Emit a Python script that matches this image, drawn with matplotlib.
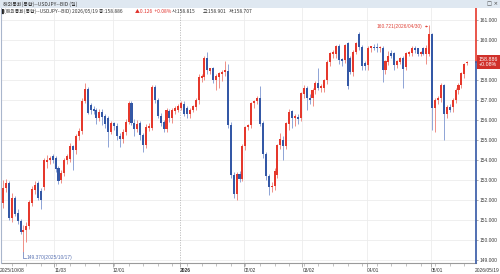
import matplotlib
matplotlib.use('Agg')
import matplotlib.pyplot as plt
import matplotlib.transforms as mtrans
from matplotlib import font_manager
from matplotlib.patches import Rectangle
import numpy as np
import pandas as pd

# ---------------- data ----------------
start_date = '2025-10-08'
end_date = '2026-05-19'

opens = [151.85, 152.60, 152.85, 151.10, 152.10, 151.30, 150.95, 150.40, 150.50, 150.70,
         151.85, 152.50, 152.80, 152.45, 152.65, 153.90, 154.00, 154.15, 154.10, 153.55,
         152.98, 153.35, 153.97, 154.05, 154.67, 154.50, 155.17, 155.45, 156.95, 157.52,
         156.75, 156.50, 156.47, 156.06, 156.40, 156.20, 156.10, 155.40, 155.80, 155.70,
         155.20, 155.05, 155.40, 155.90, 156.85, 155.85, 155.55, 155.80, 155.22, 154.72,
         155.60, 155.60, 157.64, 156.97, 156.20, 155.90, 155.55, 156.45, 156.07, 156.45,
         156.50, 156.60, 156.80, 156.55, 156.30, 156.50, 156.65, 156.97, 158.10, 158.14,
         159.09, 158.45, 158.55, 158.00, 158.15, 158.30, 158.40, 158.40, 155.72, 153.22,
         152.30, 153.30, 153.05, 154.67, 155.65, 155.72, 156.84, 156.94, 157.06, 155.80,
         154.27, 153.17, 152.64, 152.70, 153.23, 154.72, 155.00, 154.67, 155.80, 156.40,
         156.10, 156.10, 156.10, 157.30, 157.60, 157.06, 157.06, 157.50, 157.84, 157.60,
         157.60, 157.97, 158.89, 159.30, 159.30, 159.67, 158.97, 158.97, 159.80, 159.10,
         158.40, 159.40, 160.26, 159.64, 158.80, 158.72, 159.60, 159.64, 159.65, 159.56,
         159.56, 158.50, 158.90, 159.30, 159.34, 158.72, 158.90, 159.10, 158.64, 159.30,
         159.34, 159.56, 159.56, 159.30, 159.56, 159.30, 159.30, 160.30, 156.56, 156.98,
         157.10, 157.72, 156.27, 156.64, 156.64, 157.00, 157.50, 157.72, 158.30, 158.815]
highs = [153.00, 153.05, 152.95, 152.35, 152.20, 151.55, 151.05, 150.75, 150.90, 152.00,
         152.70, 152.95, 152.95, 152.60, 154.10, 154.25, 154.20, 154.30, 154.20, 153.70,
         153.50, 154.10, 154.30, 154.85, 154.75, 155.30, 155.60, 157.10, 157.84, 157.65,
         156.85, 156.70, 156.60, 156.55, 156.55, 156.30, 156.20, 155.95, 155.90, 155.85,
         155.35, 155.55, 156.05, 156.95, 156.95, 156.05, 156.00, 155.95, 155.35, 155.80,
         155.85, 157.75, 157.75, 157.10, 156.35, 156.00, 156.60, 156.55, 156.60, 156.70,
         156.80, 156.95, 156.95, 156.70, 156.60, 156.75, 157.10, 158.30, 158.30, 159.20,
         159.39, 158.60, 158.65, 158.30, 158.40, 158.50, 158.95, 158.80, 155.90, 153.40,
         153.40, 153.45, 154.80, 155.70, 155.80, 156.90, 157.00, 157.20, 157.67, 155.95,
         154.40, 153.30, 152.90, 153.60, 154.80, 155.35, 155.20, 155.90, 156.55, 156.50,
         156.30, 156.30, 157.40, 157.75, 157.70, 157.30, 157.60, 157.95, 158.60, 157.80,
         158.05, 159.00, 159.40, 159.50, 159.75, 159.80, 159.10, 159.80, 159.90, 159.20,
         159.50, 159.90, 160.40, 159.75, 158.95, 159.70, 159.70, 159.80, 159.85, 159.70,
         159.70, 159.00, 159.45, 159.50, 159.40, 159.00, 159.15, 159.20, 159.40, 159.45,
         159.70, 159.70, 159.60, 159.45, 159.65, 159.75, 160.721, 160.35, 157.10, 157.20,
         157.85, 157.80, 156.75, 156.80, 157.10, 157.60, 157.85, 158.40, 158.85, 158.901]
lows = [151.60, 152.40, 151.00, 150.90, 151.20, 150.80, 150.30, 149.37, 149.90, 150.55,
        151.70, 152.30, 152.00, 151.55, 152.50, 153.60, 153.80, 153.85, 153.40, 152.80,
        152.85, 153.20, 153.80, 153.90, 153.50, 154.30, 155.00, 155.30, 156.85, 156.30,
        156.30, 156.30, 155.80, 155.95, 155.75, 155.60, 154.64, 155.30, 155.50, 155.00,
        154.65, 154.85, 155.25, 155.80, 155.75, 155.20, 155.40, 155.00, 154.40, 154.60,
        155.45, 155.50, 156.85, 156.10, 155.70, 155.40, 155.40, 155.90, 155.85, 156.30,
        156.40, 156.50, 156.20, 156.10, 156.10, 156.40, 156.50, 156.80, 157.90, 158.00,
        158.30, 158.30, 157.85, 157.50, 157.60, 157.95, 158.20, 155.60, 153.10, 152.10,
        152.00, 152.90, 152.95, 154.50, 155.50, 155.60, 156.60, 156.80, 155.70, 154.10,
        153.00, 152.22, 152.40, 152.50, 153.10, 154.55, 154.00, 154.55, 155.50, 155.60,
        155.70, 155.80, 155.95, 157.10, 156.50, 156.80, 156.70, 157.30, 157.50, 157.40,
        157.40, 157.80, 158.70, 159.10, 159.10, 158.80, 158.70, 158.85, 157.55, 158.30,
        158.20, 159.30, 159.50, 158.50, 158.50, 158.50, 159.40, 159.50, 159.40, 159.40,
        157.89, 158.30, 158.75, 159.10, 158.50, 158.60, 158.80, 157.60, 158.50, 159.20,
        159.20, 159.35, 159.20, 159.20, 159.25, 158.80, 159.20, 155.50, 155.40, 156.80,
        156.90, 154.98, 156.10, 156.40, 156.40, 156.85, 157.30, 157.60, 158.10, 158.707]
closes = [152.60, 152.85, 151.10, 152.10, 151.30, 150.95, 150.40, 150.50, 150.70, 151.85,
          152.50, 152.75, 152.10, 152.00, 154.00, 154.00, 154.10, 154.00, 153.55, 152.95,
          153.35, 153.97, 154.15, 154.67, 154.50, 155.17, 155.45, 156.95, 157.52, 156.34,
          156.50, 156.45, 156.06, 156.40, 156.15, 155.80, 155.40, 155.80, 155.70, 155.20,
          155.05, 155.40, 155.90, 156.85, 155.85, 155.55, 155.80, 155.22, 154.72, 155.64,
          155.67, 157.64, 156.97, 156.20, 155.85, 155.55, 156.47, 156.07, 156.47, 156.55,
          156.67, 156.80, 156.30, 156.28, 156.50, 156.65, 156.97, 158.14, 158.17, 159.09,
          158.47, 158.55, 158.00, 158.15, 158.30, 158.40, 158.45, 155.72, 153.22, 152.30,
          153.30, 153.05, 154.67, 155.64, 155.72, 156.84, 156.94, 157.06, 155.80, 154.27,
          153.17, 152.64, 152.70, 153.44, 154.72, 155.00, 154.67, 155.80, 156.40, 156.10,
          156.15, 156.05, 157.30, 157.60, 157.06, 157.00, 157.50, 157.84, 157.60, 157.65,
          157.97, 158.89, 159.30, 159.35, 159.67, 158.97, 158.95, 159.72, 157.70, 158.40,
          159.40, 159.80, 159.64, 158.67, 158.67, 159.56, 159.64, 159.56, 159.56, 159.60,
          158.50, 158.90, 159.20, 159.20, 158.72, 158.90, 159.05, 158.55, 159.30, 159.38,
          159.56, 159.50, 159.30, 159.35, 159.30, 159.56, 160.30, 156.56, 156.98, 157.10,
          157.72, 156.27, 156.64, 156.50, 157.00, 157.50, 157.72, 158.30, 158.76, 158.886]

month_labels = ['11/03', '12/01', '2026', '02/02', '03/02', '04/01', '05/01']
first_label = '2025/10/08'
last_label = '2026/05/19'
y_ticks = [149, 150, 151, 152, 153, 154, 155, 156, 157, 158, 159, 160, 161]
low_note = '149.370(2025/10/17)'
high_note = '160.721(2026/04/30)'
last_price = 158.886
last_pct = '+0.08%'
title_text = '해외통화(통합)--USDJPY--BID (일)'
info_main = '(해외통화(통합)--USDJPY--BID) 2026/05/19 종:158.886'
info_chg = '▲0.126  +0.08%'
info_rest = ['시:158.815', '고:158.901', '저:158.707']

# ---------------- style ----------------
RED = '#e5382c'
BLUE = '#3458a6'
RED_W = '#ef8f86'
BLUE_W = '#8ea4d6'


def pick(names):
    out = []
    for nm in names:
        try:
            font_manager.findfont(font_manager.FontProperties(family=nm), fallback_to_default=False)
            out.append(nm)
        except Exception:
            pass
    return out + ['DejaVu Sans']


NUM_FONT = pick(['Liberation Sans Narrow', 'Liberation Sans'])
KR_FONT = pick(['Noto Sans CJK KR'])
NUM_SIZE = 3.9 if NUM_FONT[0] == 'Liberation Sans Narrow' else 3.5

dates = pd.bdate_range(start_date, end_date)
n = len(closes)
dates = dates[:n]
x = np.arange(n)
o = np.array(opens); h = np.array(highs); l = np.array(lows); c = np.array(closes)
up = c >= o

W, H = 500, 274
fig = plt.figure(figsize=(W / 100, H / 100), dpi=100)
fig.patch.set_facecolor('white')

ax_l, ax_r, ax_t, ax_b = 2, 476, 8, 263
ax = fig.add_axes([ax_l / W, 1 - ax_b / H, (ax_r - ax_l) / W, (ax_b - ax_t) / H])
ax.set_facecolor('white')

# header band
fig.patches.append(Rectangle((0, 1 - 7.5 / H), 1, 7.5 / H, transform=fig.transFigure,
                             facecolor='#dfe8f1', edgecolor='none', zorder=5))
fig.text(3 / W, 1 - 3.8 / H, title_text, fontsize=3.6, family=KR_FONT, color='#333333',
         va='center', ha='left', zorder=6)
fig.text(487 / W, 1 - 3.8 / H, '□ ×', fontsize=3.8, family=['DejaVu Sans'], color='#444444',
         va='center', ha='left', zorder=6)

# month positions
mstarts = []
prev_m = None
for i, d in enumerate(dates):
    if prev_m is not None and d.month != prev_m:
        mstarts.append(i)
    prev_m = d.month
mondays = [i for i, d in enumerate(dates) if d.weekday() == 0]

# grid
for yv in y_ticks:
    ax.axhline(yv, color='#ececec', lw=0.6, zorder=0)
for i, pos in enumerate(mstarts):
    if month_labels[i] == '2026':
        ax.axvline(pos - 0.5, color='#b8b8b8', lw=0.6, ls=(0, (1.5, 1.5)), zorder=0)
    else:
        ax.axvline(pos - 0.5, color='#ececec', lw=0.6, zorder=0)

# candles
bw = 0.7
for i in range(n):
    col = RED if up[i] else BLUE
    wcol = RED_W if up[i] else BLUE_W
    ax.vlines(x[i], l[i], h[i], color=wcol, lw=0.7, zorder=2)
    bot = min(o[i], c[i])
    hgt = max(abs(c[i] - o[i]), 0.05)
    ax.add_patch(Rectangle((x[i] - bw / 2, bot), bw, hgt, facecolor=col,
                           edgecolor='none', zorder=3))

ax.set_xlim(-0.35, 162.0)
ax.set_ylim(148.825, 161.575)

# spines
for s in ['top', 'left', 'right']:
    ax.spines[s].set_visible(False)
ax.spines['bottom'].set_color('#9a9a9a')
ax.spines['bottom'].set_linewidth(0.8)
fig.add_artist(plt.Line2D([1.2 / W, 1.2 / W], [1 - ax_b / H, 1 - ax_t / H],
                          color='#a9b6cc', lw=0.8, transform=fig.transFigure))

# right axis two-colour line
tr = mtrans.blended_transform_factory(ax.transAxes, ax.transData)
ax.plot([1.0, 1.0], [last_price, 161.575], color=RED, lw=1.2, transform=tr, clip_on=False, zorder=6)
ax.plot([1.0, 1.0], [148.825, last_price], color=BLUE, lw=1.2, transform=tr, clip_on=False, zorder=6)

# y ticks (the 159 label is hidden under the last-price tag)
ax.yaxis.tick_right()
ax.set_yticks(y_ticks)
ax.set_yticklabels(['' if v == 159 else f'{v:.3f}' for v in y_ticks], fontsize=NUM_SIZE,
                   family=NUM_FONT, color='#3a3a3a')
ax.tick_params(axis='y', length=1.5, width=0.5, color='#888888', pad=1.2)

# x ticks
ax.set_xticks([m - 0.5 for m in mstarts])
ax.set_xticklabels([])
ax.set_xticks(mondays, minor=True)
ax.tick_params(axis='x', which='major', length=3, width=0.5, color='#888888')
ax.tick_params(axis='x', which='minor', length=2, width=0.5, color='#aaaaaa')
trx = mtrans.blended_transform_factory(ax.transData, ax.transAxes)
for pos, lab in zip(mstarts, month_labels):
    ax.text(pos - 0.4, -0.02, lab, transform=trx, fontsize=NUM_SIZE, family=NUM_FONT,
            color='#333333', ha='left', va='top',
            fontweight='bold' if lab == '2026' else 'normal')
ax.text(-0.004, -0.02, first_label, transform=ax.transAxes, fontsize=NUM_SIZE, family=NUM_FONT,
        color='#333333', ha='left', va='top')
ax.text(0.998, -0.02, last_label, transform=ax.transAxes, fontsize=NUM_SIZE, family=NUM_FONT,
        color='#333333', ha='left', va='top', clip_on=False)

# last price tag
ax.annotate(f'{last_price:.3f}\n{last_pct}', xy=(1.0, last_price), xycoords=tr,
            xytext=(2.0, 0), textcoords='offset points', fontsize=NUM_SIZE + 0.3, family=NUM_FONT,
            color='white', ha='left', va='center', linespacing=0.95,
            bbox=dict(boxstyle='square,pad=0.35', facecolor='#d0302a', edgecolor='none'),
            annotation_clip=False, zorder=7)

# low annotation
imin = int(np.argmin(l))
ylow_txt = 148.825 + (263 - 257.5) / 20
ax.plot([x[imin], x[imin], x[imin] + 1.0], [l[imin], ylow_txt, ylow_txt], color='#5a73b3',
        lw=0.5, zorder=4)
ax.text(x[imin] + 1.2, ylow_txt, low_note, fontsize=NUM_SIZE, family=NUM_FONT,
        color='#5a73b3', ha='left', va='center')

# high annotation
imax = int(np.argmax(h))
ax.annotate(high_note, xy=(x[imax] - 0.4, 160.65), xytext=(x[imax] - 2.3, 160.65),
            fontsize=NUM_SIZE, family=NUM_FONT, color='#e0443a', ha='right', va='center',
            arrowprops=dict(arrowstyle='-|>,head_length=0.25,head_width=0.12', color='#e0443a',
                            lw=0.5, shrinkA=0, shrinkB=0))

# info line
fig.text(1.5 / W, 1 - 11.5 / H, '▌', fontsize=3.6, family=['DejaVu Sans'], color='#222222',
         va='center', ha='left')
fig.text(4 / W, 1 - 11.5 / H, info_main, fontsize=3.5, family=KR_FONT, color='#333333',
         va='center', ha='left')
fig.text(135 / W, 1 - 11.5 / H, info_chg, fontsize=3.5, family=KR_FONT, color='#e0302a',
         va='center', ha='left')
for xp, t in zip([172, 203, 229], info_rest):
    fig.text(xp / W, 1 - 11.5 / H, t, fontsize=3.5, family=KR_FONT, color='#333333',
             va='center', ha='left')

fig.savefig('out.png', dpi=100, facecolor='white')
